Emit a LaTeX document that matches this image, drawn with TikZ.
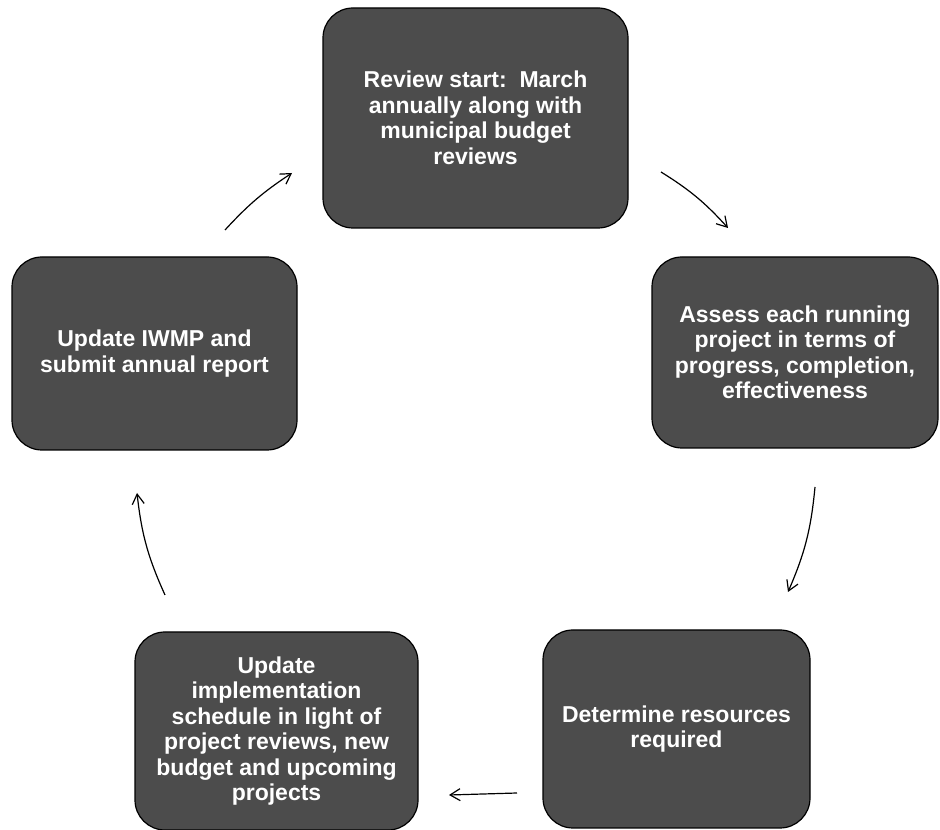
\documentclass[tikz,border=0pt]{standalone}
\usepackage{fontspec}
\setmainfont{Liberation Sans}
\usetikzlibrary{arrows.meta}
\begin{document}
\begin{tikzpicture}[x=1pt,y=1pt,
  cyclebox/.style={draw=black, line width=1.2pt, fill=black!70, rounded corners=30pt,
    text=white, align=center, inner sep=0pt,
    font=\fontsize{23}{25.5}\selectfont\bfseries},
  cyclearrow/.style={line width=1.2pt, -{Straight Barb[length=10pt,width=12pt,line width=1.2pt]}}]
\useasboundingbox (0,0) rectangle (940,830);
\node[cyclebox, minimum width=305pt, minimum height=220pt] (top) at (475.5,712)
  {Review start:~~March\\annually along with\\municipal budget\\reviews};
\node[cyclebox, minimum width=286pt, minimum height=191pt] (right) at (795,477.5)
  {Assess each running\\project in terms of\\progress, completion,\\effectiveness};
\node[cyclebox, minimum width=267pt, minimum height=198pt] (bright) at (676.5,101)
  {Determine resources\\required};
\node[cyclebox, minimum width=283pt, minimum height=198pt] (bleft) at (276.5,99)
  {Update\\implementation\\schedule in light of\\project reviews, new\\budget and upcoming\\projects};
\node[cyclebox, minimum width=285pt, minimum height=193pt] (left) at (154.5,476.5)
  {Update IWMP and\\submit annual report};
\coordinate (a1s) at (225,600); \coordinate (a1e) at (292,657);
\coordinate (a2s) at (661,658); \coordinate (a2e) at (728,602);
\coordinate (a3s) at (815,343); \coordinate (a3e) at (788,238);
\coordinate (a4s) at (517,37);  \coordinate (a4e) at (449,35);
\coordinate (a5s) at (165,235); \coordinate (a5e) at (137,337);
\draw[cyclearrow] (a1s) to[bend left=7] (a1e);
\draw[cyclearrow] (a2s) to[bend left=8] (a2e);
\draw[cyclearrow] (a3s) to[bend left=9] (a3e);
\draw[cyclearrow] (a4s) -- (a4e);
\draw[cyclearrow] (a5s) to[bend left=9] (a5e);
\end{tikzpicture}
\end{document}
